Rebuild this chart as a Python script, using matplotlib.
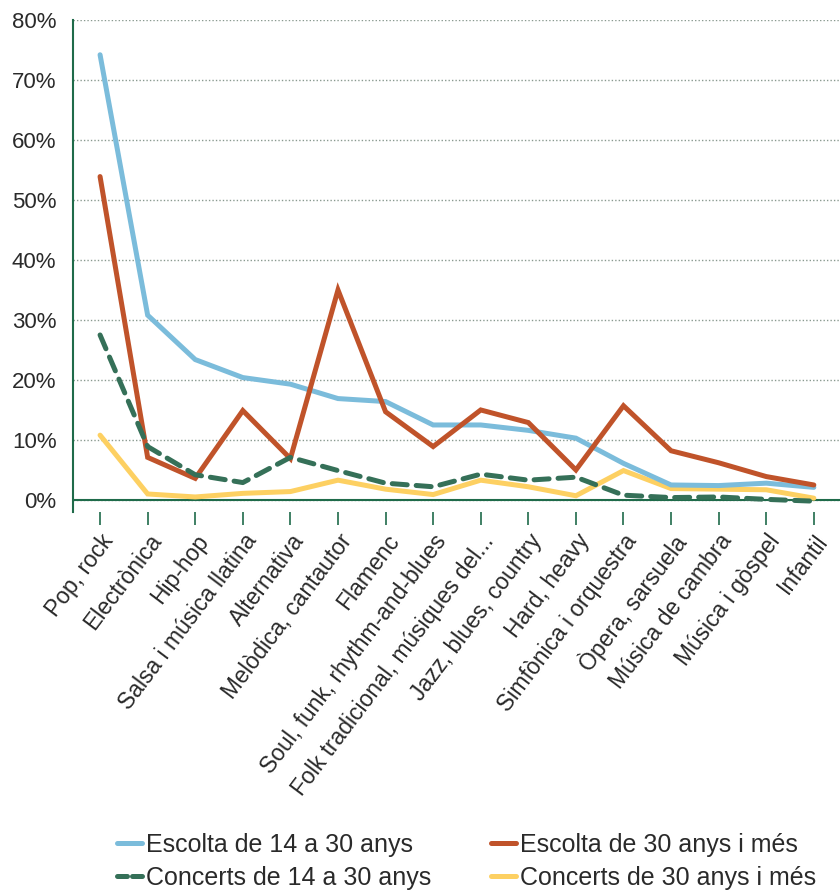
import matplotlib
matplotlib.use("Agg")
import matplotlib.pyplot as plt
from matplotlib.lines import Line2D
from matplotlib.ticker import FuncFormatter, MultipleLocator

categories = ["Pop, rock", "Electrònica", "Hip-hop", "Salsa i música llatina", "Alternativa",
              "Melòdica, cantautor", "Flamenc", "Soul, funk, rhythm-and-blues",
              "Folk tradicional, músiques del...", "Jazz, blues, country", "Hard, heavy",
              "Simfònica i orquestra", "Òpera, sarsuela", "Música de cambra",
              "Música i gòspel", "Infantil"]

escolta_14_30 = [74.2, 30.8, 23.4, 20.4, 19.3, 16.9, 16.4, 12.5, 12.5, 11.6, 10.3, 6.1, 2.5, 2.4, 2.8, 2.1]
escolta_30 = [53.9, 7.1, 3.6, 14.9, 6.9, 35.0, 14.7, 8.9, 15.0, 12.9, 5.0, 15.7, 8.2, 6.2, 3.9, 2.5]
concerts_14_30 = [27.5, 8.9, 4.2, 2.9, 7.1, 4.9, 2.8, 2.2, 4.3, 3.3, 3.8, 0.8, 0.4, 0.5, 0.1, -0.2]
concerts_30 = [10.8, 1.0, 0.5, 1.1, 1.4, 3.3, 1.8, 0.9, 3.3, 2.2, 0.7, 4.9, 1.9, 1.8, 1.7, 0.3]

series_labels = ["Escolta de 14 a 30 anys", "Escolta de 30 anys i més",
                 "Concerts de 14 a 30 anys", "Concerts de 30 anys i més"]

plt.rcParams['font.family'] = ['Liberation Sans', 'DejaVu Sans']
txt = "#2a2a2a"
axis_green = "#1f6b4a"
c_blue, c_red, c_green, c_yellow = "#7bbcdb", "#c0532a", "#357058", "#fdd062"

fig = plt.figure(figsize=(8.4, 8.91), dpi=100)
ax = fig.add_axes([0.087, 0.4254, 0.913, 0.5522])

x = list(range(len(categories)))
lw = 3.6
l1, = ax.plot(x, escolta_14_30, color=c_blue, lw=lw, solid_capstyle="round", solid_joinstyle="miter", zorder=3)
l2, = ax.plot(x, escolta_30, color=c_red, lw=lw, solid_capstyle="round", solid_joinstyle="miter", zorder=4)
l3, = ax.plot(x, concerts_14_30, color=c_green, lw=lw, linestyle=(0, (3, 1.8)), dash_capstyle="round", zorder=5)
l4, = ax.plot(x, concerts_30, color=c_yellow, lw=lw, solid_capstyle="round", solid_joinstyle="miter", zorder=2)

ax.set_xlim(-0.567, 15.55)
ax.set_ylim(-2, 80)
ax.yaxis.set_major_locator(MultipleLocator(10))
ax.yaxis.set_major_formatter(FuncFormatter(lambda v, p: f"{int(round(v))}%"))
ax.grid(axis="y", color="#8a9a90", linestyle=(0, (1, 1.5)), linewidth=1.0)
ax.set_axisbelow(True)
ax.axhline(0, color=axis_green, lw=1.5, zorder=1)

for s in ["top", "right", "bottom"]:
    ax.spines[s].set_visible(False)
ax.spines["left"].set_color(axis_green)
ax.spines["left"].set_linewidth(1.5)

ax.set_xticks(x)
ax.set_xticklabels(categories, rotation=53, ha="right", rotation_mode="anchor",
                   fontsize=16.5, color=txt)
ax.tick_params(axis="x", length=9, width=1.2, color=axis_green, pad=4)
ax.tick_params(axis="y", length=0, labelsize=16, labelcolor=txt, pad=12)

h1 = Line2D([], [], color=c_blue, lw=lw, solid_capstyle="round")
h2 = Line2D([], [], color=c_red, lw=lw, solid_capstyle="round")
h3 = Line2D([], [], color=c_green, lw=lw, linestyle=(0, (2.0, 1.0)), dash_capstyle="round")
h4 = Line2D([], [], color=c_yellow, lw=lw, solid_capstyle="round")

fig.legend([h1, h3, h2, h4],
           [series_labels[0], series_labels[2], series_labels[1], series_labels[3]],
           ncol=2, loc="lower left",
           bbox_to_anchor=(0.113, -0.024), frameon=False,
           handlelength=1.0, handletextpad=0.15, columnspacing=2.4, labelspacing=0.35,
           prop={"size": 18}, labelcolor=txt)

fig.savefig("out.png", dpi=100)
